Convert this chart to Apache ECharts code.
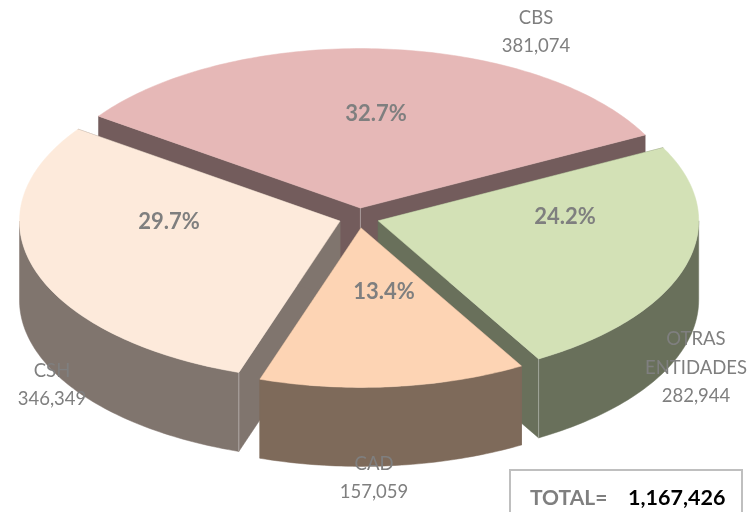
<!DOCTYPE html>
<html><head><meta charset="utf-8">
<style>html,body{margin:0;padding:0;background:#fff}#c{width:755px;height:512px}</style>
<script src="https://cdn.jsdelivr.net/npm/echarts@6/dist/echarts.min.js"></script>
</head><body><div id="c"></div>
<script>
const categories = ['CBS', 'OTRAS\nENTIDADES', 'CAD', 'CSH'];
const values = [381074, 282944, 157059, 346349];
const valueLabels = ['381,074', '282,944', '157,059', '346,349'];
const percentLabels = ['32.7%', '24.2%', '13.4%', '29.7%'];
const totalCaption = 'TOTAL=';
const totalLabel = '1,167,426';

const topColors = ['#e6b8b7', '#d3e1b6', '#fdd4b4', '#fdeadb'];
const wallColors = ['#735c5c', '#69705b', '#7e6a5a', '#80756e'];
const paintRank = [0, 1, 2, 1];
const namePos = [[536, 32], [696, 368], [374, 478], [52, 385]];
const pctPos = [[376, 114], [565, 217], [384, 292], [169, 222]];

const CX = 359, CY = 218, RX = 320.5, RY = 159.5, DEPTH = 79, EXPLODE = 20, START = 305.2;
const FONT = 'Lato, "Open Sans", sans-serif';
const GREY = '#7f7f7f';
const sum = values.reduce((a, b) => a + b, 0);
const rad = d => d * Math.PI / 180;

function sliceAngles(i) {
  let a = START;
  for (let k = 0; k < i; k++) a += values[k] / sum * 360;
  return [a, a + values[i] / sum * 360];
}
function renderSlice(params, api) {
  const i = api.value(0);
  const [a0, a1] = sliceAngles(i);
  const mid = (a0 + a1) / 2;
  const ox = CX + EXPLODE * Math.sin(rad(mid));
  const oy = CY - EXPLODE * RY / RX * Math.cos(rad(mid));
  const pt = (a, dz) => [ox + RX * Math.sin(rad(a)), oy - RY * Math.cos(rad(a)) + (dz || 0)];
  const arc = (s, e, dz) => {
    const out = [], n = Math.max(2, Math.ceil(Math.abs(e - s)));
    for (let k = 0; k <= n; k++) out.push(pt(s + (e - s) * k / n, dz));
    return out;
  };
  const base = paintRank[i] * 10;
  const fill = wallColors[i];
  const kids = [];
  const poly = (points, color, z) => kids.push({
    type: 'polygon', shape: { points }, z2: base + z,
    style: { fill: color, stroke: color, lineWidth: 0.5 }
  });
  const seam = (p, z) => kids.push({
    type: 'line', z2: base + z,
    shape: { x1: p[0], y1: p[1], x2: p[0], y2: p[1] + DEPTH },
    style: { stroke: 'rgba(255,255,255,0.35)', lineWidth: 1 }
  });
  const apex = [ox, oy];
  const apexLow = [ox, oy + DEPTH];
  [a0, a1].forEach(a => poly([apex, pt(a), pt(a, DEPTH), apexLow], fill, 0));
  const norm = a => ((a % 360) + 360) % 360;
  const startFaces = norm(a0) > 180;
  const endFaces = norm(a1) < 180;
  if (startFaces && endFaces) seam(apex, 1);
  else if (startFaces) seam(pt(a0), 3);
  else if (endFaces) seam(pt(a1), 3);
  // outer rim: only the front half (90..270 measured clockwise from the top)
  const s = norm(a0), e = s + (a1 - a0);
  const fs = Math.max(s, 90), fe = Math.min(e, 270);
  if (fe > fs) poly(arc(fs, fe, 0).concat(arc(fe, fs, DEPTH)), fill, 2);
  poly([apex].concat(arc(a0, a1, 0)), topColors[i], 4);
  return { type: 'group', children: kids, silent: true };
}
function renderLabels(params, api) {
  const i = api.value(0);
  return {
    type: 'group', silent: true, children: [
      { type: 'text', z2: 100, style: {
        x: namePos[i][0], y: namePos[i][1], text: categories[i] + '\n' + valueLabels[i],
        fill: GREY, font: '18.5px ' + FONT, lineHeight: 28.5, align: 'center', verticalAlign: 'middle' } },
      { type: 'text', z2: 100, style: {
        x: pctPos[i][0], y: pctPos[i][1], text: percentLabels[i],
        fill: GREY, font: 'bold 22px ' + FONT, align: 'center', verticalAlign: 'middle' } }
    ]
  };
}
const seriesData = values.map((v, i) => [i, v]);
const chart = echarts.init(document.getElementById('c'), null, { renderer: 'canvas' });
chart.setOption({
  animation: false,
  backgroundColor: '#fff',
  series: [
    { type: 'custom', coordinateSystem: 'none', data: seriesData, renderItem: renderSlice, z: 2, silent: true },
    { type: 'custom', coordinateSystem: 'none', data: seriesData, renderItem: renderLabels, z: 3, silent: true }
  ],
  graphic: [
    { type: 'rect', z: 5, shape: { x: 510, y: 470, width: 232, height: 60 },
      style: { fill: '#fff', stroke: '#bfbfbf', lineWidth: 2 } },
    { type: 'text', z: 6, style: { x: 530, y: 498, text: totalCaption, fill: GREY,
      font: 'bold 21px ' + FONT, verticalAlign: 'middle' } },
    { type: 'text', z: 6, style: { x: 628, y: 498, text: totalLabel, fill: '#000',
      font: 'bold 21.5px ' + FONT, verticalAlign: 'middle' } }
  ]
});
</script></body></html>
